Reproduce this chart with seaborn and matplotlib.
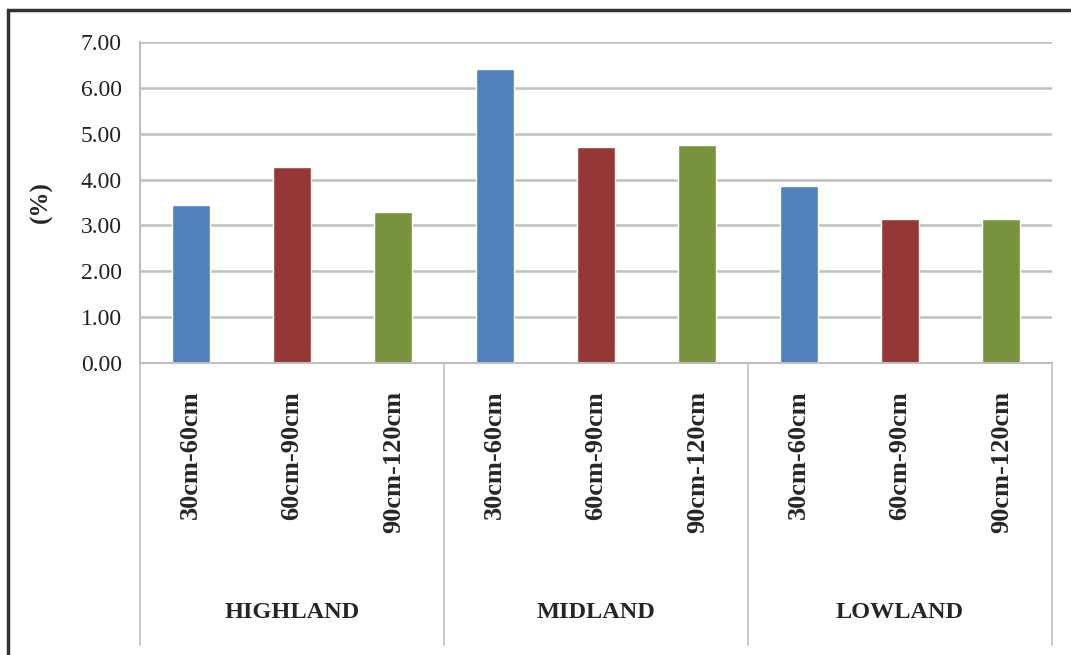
import pandas as pd
import seaborn as sns
import matplotlib
import matplotlib.pyplot as plt
from matplotlib.patches import Rectangle
matplotlib.use('Agg')

# data
regions = ['HIGHLAND', 'MIDLAND', 'LOWLAND']
depths = ['30cm-60cm', '60cm-90cm', '90cm-120cm']
highland = [3.45, 4.28, 3.30]
midland = [6.42, 4.72, 4.76]
lowland = [3.85, 3.14, 3.14]
y_ticks = [0, 1, 2, 3, 4, 5, 6, 7]

colors = {'30cm-60cm': '#4F81BD', '60cm-90cm': '#953735', '90cm-120cm': '#77933C'}

rows = []
for reg, vals in zip(regions, [highland, midland, lowland]):
    for d, v in zip(depths, vals):
        rows.append({'region': reg, 'depth': d, 'key': reg + '|' + d, 'value': v})
df = pd.DataFrame(rows)

sns.set_style('white')
plt.rcParams['font.family'] = ['Liberation Serif', 'DejaVu Serif']

fig = plt.figure(figsize=(10.71, 6.55), dpi=100)
ax = fig.add_axes([140 / 1071, 1 - 363 / 655, 912 / 1071, 321 / 655])

sns.barplot(data=df, x='key', y='value', hue='depth', palette=colors,
            dodge=False, width=0.375, legend=False, ax=ax, saturation=1)

ax.set_ylim(0, 7)
ax.set_xlim(-0.5, len(df) - 0.5)
ax.set_yticks(y_ticks)
ax.set_yticklabels([f'{t:.2f}' for t in y_ticks], fontsize=17, color='#222222')
ax.yaxis.grid(True, color='#BFBFBF', linewidth=1.8)
ax.set_axisbelow(True)

ax.set_xticks(range(len(df)))
ax.set_xticklabels(df['depth'], rotation=90, fontsize=19, fontweight='bold',
                   va='top', ha='center')
ax.tick_params(axis='x', length=0, pad=20)
ax.tick_params(axis='y', length=0, pad=13)

ax.set_xlabel('')
ax.set_ylabel('(%)', fontsize=18, fontweight='bold')
ax.yaxis.set_label_coords(-0.095, 0.5)

for s in ['top', 'right']:
    ax.spines[s].set_visible(False)
for s in ['left', 'bottom']:
    ax.spines[s].set_color('#BFBFBF')
    ax.spines[s].set_linewidth(1.5)

# group dividers and labels under the axis
trans = ax.get_xaxis_transform()
for xd in [-0.5, 2.5, 5.5, 8.5]:
    ax.plot([xd, xd], [0, -0.878], color='#BFBFBF', lw=1.2, transform=trans, clip_on=False)
for i, reg in enumerate(regions):
    ax.text(i * 3 + 1, -0.776, reg, transform=trans, ha='center', va='center',
            fontsize=17.5, fontweight='bold')

# outer chart frame
fig.patches.append(Rectangle((8 / 1071, -0.1), 1.2, 1 - 10 / 655 + 0.1,
                             transform=fig.transFigure, fill=False,
                             edgecolor='#333333', linewidth=2.5))

plt.savefig('out.png', dpi=100)
